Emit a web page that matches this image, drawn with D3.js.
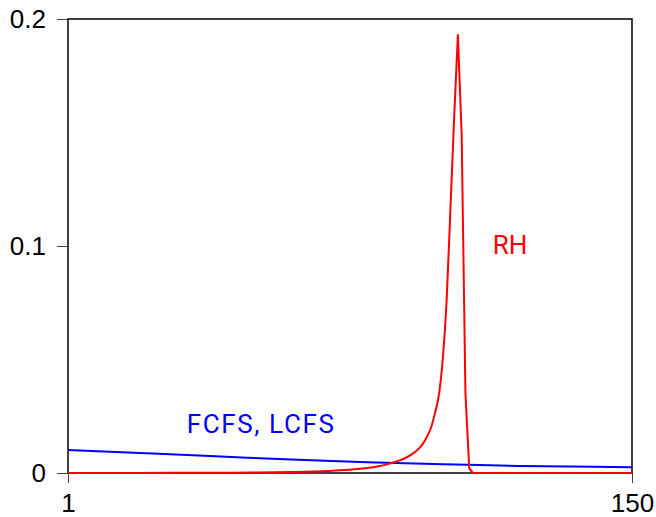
<!DOCTYPE html>
<html>
<head>
<meta charset="utf-8">
<script src="https://cdn.jsdelivr.net/npm/d3@7"></script>
<style>
  body { margin: 0; background: #fff; }
  svg { display: block; font-family: Roboto, "DejaVu Sans", sans-serif; }
</style>
</head>
<body>
<svg></svg>
<script>
// FCFS / LCFS curve
const fcfsN = [1, 20, 40, 60, 80, 100, 120, 140, 150];
const fcfsValues = [0.0101, 0.0088, 0.0074, 0.0059, 0.0047, 0.0039, 0.0031, 0.0027, 0.0025];

// RH curve
const rhN = [1, 20, 40, 50, 60, 70, 75, 80, 83, 85, 88, 90, 92, 94, 95, 96, 97, 98, 99, 100,
  101, 102, 103, 104, 105, 106, 107, 108, 150];
const rhValues = [0, 0.00005, 0.0001, 0.0002, 0.0004, 0.0009, 0.0014, 0.0022, 0.003, 0.0037,
  0.0052, 0.0065, 0.0084, 0.0113, 0.0135, 0.0165, 0.0205, 0.0267, 0.0345, 0.05,
  0.075, 0.115, 0.156, 0.193, 0.149, 0.035, 0.002, 0, 0];

const xTicks = [1, 150];
const yTicks = [0, 0.1, 0.2];

const labels = [
  { text: "FCFS, LCFS", n: 32.4, v: 0.0176, color: "#0000ff", spacing: 1.6 },
  { text: "RH", n: 113.2, v: 0.0963, color: "#ff0000", spacing: 0 },
];

const width = 656;
const height = 517;
const plotLeft = 68;
const plotRight = 632;
const plotTop = 19;
const plotBottom = 473;

const svg = d3.select("svg").attr("width", width).attr("height", height);

const xScale = d3.scaleLinear().domain([1, 150]).range([plotLeft, plotRight]);
const yScale = d3.scaleLinear().domain([0, 0.2]).range([plotBottom, plotTop]);

const xAxis = d3.axisBottom(xScale).tickValues(xTicks).tickFormat(d3.format("d"))
  .tickSize(10).tickPadding(11);
const yAxis = d3.axisLeft(yScale).tickValues(yTicks).tickFormat((d) => (d === 0 ? "0" : d3.format(".1f")(d)))
  .tickSize(11).tickPadding(11);

const styleAxis = (g) => {
  g.select(".domain").remove();
  g.selectAll(".tick line").attr("stroke", "#444").attr("stroke-width", 1);
  g.selectAll(".tick text").attr("fill", "#000").style("font-size", "26px");
};

svg.append("g").attr("transform", `translate(0, ${plotBottom})`).call(xAxis).call(styleAxis);
svg.append("g").attr("transform", `translate(${plotLeft}, 0)`).call(yAxis).call(styleAxis);

// frame
svg.append("rect")
  .attr("x", plotLeft).attr("y", plotTop)
  .attr("width", plotRight - plotLeft).attr("height", plotBottom - plotTop)
  .attr("fill", "none").attr("stroke", "#000").attr("stroke-width", 1.5);

const smoothLine = d3.line()
  .x((d) => xScale(d[0]))
  .y((d) => yScale(d[1]))
  .curve(d3.curveMonotoneX);
const straightLine = d3.line()
  .x((d) => xScale(d[0]))
  .y((d) => yScale(d[1]));

svg.append("path")
  .datum(fcfsN.map((n, i) => [n, fcfsValues[i]]))
  .attr("d", smoothLine)
  .attr("fill", "none").attr("stroke", "#0000ff").attr("stroke-width", 2);

// RH: smooth rise, sharp peak and drop
const rhPoints = rhN.map((n, i) => [n, rhValues[i]]);
const split = rhN.indexOf(103);

svg.append("path")
  .datum(rhPoints.slice(0, split + 1))
  .attr("d", smoothLine)
  .attr("fill", "none").attr("stroke", "#ff0000").attr("stroke-width", 2);

svg.append("path")
  .datum(rhPoints.slice(split))
  .attr("d", straightLine)
  .attr("fill", "none").attr("stroke", "#ff0000").attr("stroke-width", 2)
  .attr("stroke-linejoin", "round");

svg.selectAll(".label")
  .data(labels)
  .enter()
  .append("text")
  .attr("class", "label")
  .attr("x", (d) => xScale(d.n))
  .attr("y", (d) => yScale(d.v))
  .attr("fill", (d) => d.color)
  .style("letter-spacing", (d) => `${d.spacing}px`)
  .style("font-size", "26px")
  .text((d) => d.text);
</script>
</body>
</html>
